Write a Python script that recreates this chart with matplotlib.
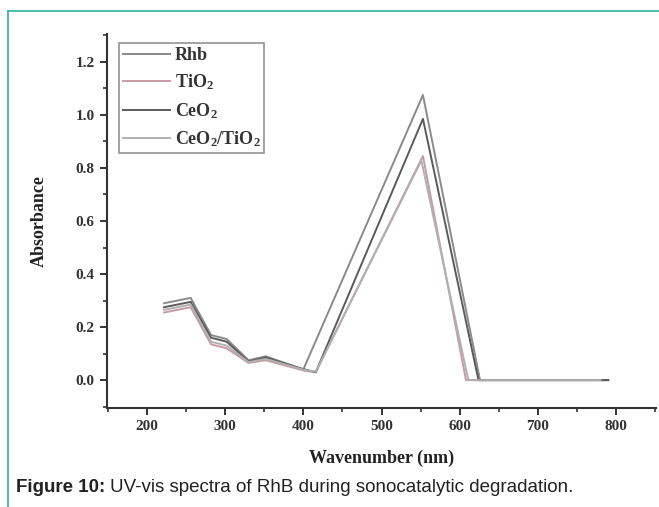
import numpy as np
import matplotlib
matplotlib.use("Agg")
import matplotlib.pyplot as plt
from matplotlib.ticker import MultipleLocator
from matplotlib.lines import Line2D

# Spectra (wavelength nm, absorbance)
rhb_x = [222, 256, 282, 302, 330, 352, 400, 553, 626, 790]
rhb_y = [0.290, 0.310, 0.170, 0.155, 0.075, 0.090, 0.040, 1.075, 0.0, 0.0]

tio2_x = [222, 256, 282, 302, 330, 352, 402, 416, 553, 608, 770]
tio2_y = [0.255, 0.275, 0.135, 0.120, 0.065, 0.075, 0.035, 0.030, 0.845, 0.0, 0.0]

ceo2_x = [222, 256, 282, 302, 330, 352, 402, 416, 553, 624, 790]
ceo2_y = [0.275, 0.295, 0.160, 0.145, 0.070, 0.085, 0.040, 0.030, 0.985, 0.0, 0.0]

mix_x = [222, 256, 282, 302, 330, 352, 402, 416, 551, 611, 780]
mix_y = [0.265, 0.285, 0.145, 0.130, 0.068, 0.080, 0.038, 0.032, 0.828, 0.0, 0.0]

labels = ["Rhb", "TiO$_2$", "CeO$_2$", "CeO$_2$/TiO$_2$"]
colors = ["#8a8a8a", "#c99aa4", "#5a5a5a", "#b0b0b0"]

plt.rcParams["font.family"] = ["Liberation Serif", "DejaVu Serif"]
plt.rcParams["mathtext.fontset"] = "custom"
plt.rcParams["mathtext.rm"] = "Liberation Serif:bold"
plt.rcParams["mathtext.it"] = "Liberation Serif:bold"

fig = plt.figure(figsize=(6.59, 5.07), dpi=100)
ax = fig.add_axes([107 / 659, 99 / 507, 549 / 659, 374 / 507])

series = [(rhb_x, rhb_y), (tio2_x, tio2_y), (ceo2_x, ceo2_y), (mix_x, mix_y)]
for (xs, ys), lab, c in zip(series, labels, colors):
    ax.plot(xs, ys, color=c, lw=1.4, label=lab)

ax.set_xlim(149, 851)
ax.set_ylim(-0.105, 1.305)
ax.xaxis.set_minor_locator(MultipleLocator(50))
ax.yaxis.set_minor_locator(MultipleLocator(0.1))
ax.set_xticks(np.arange(200, 801, 100))
ax.set_yticks(np.arange(0, 1.21, 0.2))
ax.set_yticklabels([f"{v:.1f}" for v in np.arange(0, 1.21, 0.2)])

for s in ["top", "right"]:
    ax.spines[s].set_visible(False)
for s in ["left", "bottom"]:
    ax.spines[s].set_linewidth(1.5)
    ax.spines[s].set_color("#333333")

ax.tick_params(which="major", direction="out", length=5, width=1.4, color="#333333",
               labelsize=11, pad=4)
ax.tick_params(which="minor", direction="out", length=3, width=1.2, color="#333333")
for t in ax.get_xticklabels() + ax.get_yticklabels():
    t.set_fontweight("bold")
    t.set_color("#333333")

ax.set_xlabel("Wavenumber (nm)", fontsize=13, fontweight="bold", color="#222222", labelpad=12)
ax.set_ylabel("Absorbance", fontsize=13, fontweight="bold", color="#222222", labelpad=20)

leg = ax.legend(loc="upper left", bbox_to_anchor=(0.022, 0.975),
                prop={"weight": "bold", "size": 13}, handlelength=2.6,
                frameon=True, fancybox=False, borderpad=0.2, labelspacing=0.48,
                handletextpad=0.3, borderaxespad=0)
leg.get_frame().set_edgecolor("#777777")
leg.get_frame().set_linewidth(1.2)
for t in leg.get_texts():
    t.set_color("#333333")

# teal frame on the left and top
fig.add_artist(Line2D([8 / 659, 8 / 659], [0, 1 - 11 / 507], color="#2ab3a0", lw=1.2,
                      transform=fig.transFigure))
fig.add_artist(Line2D([8 / 659, 1], [1 - 11 / 507, 1 - 11 / 507], color="#2ab3a0", lw=1.2,
                      transform=fig.transFigure))

cap_y = 1 - 488 / 507
bold = fig.text(16 / 659, cap_y, "Figure 10:", fontsize=13.5, fontweight="bold",
                family="Liberation Sans", va="center", color="#222222")
fig.canvas.draw()
bb = bold.get_window_extent()
fig.text(bb.x1 / 659 + 5 / 659, cap_y, "UV-vis spectra of RhB during sonocatalytic degradation.",
         fontsize=13.5, family="Liberation Sans", va="center", color="#222222")

fig.savefig("out.png", dpi=100)
